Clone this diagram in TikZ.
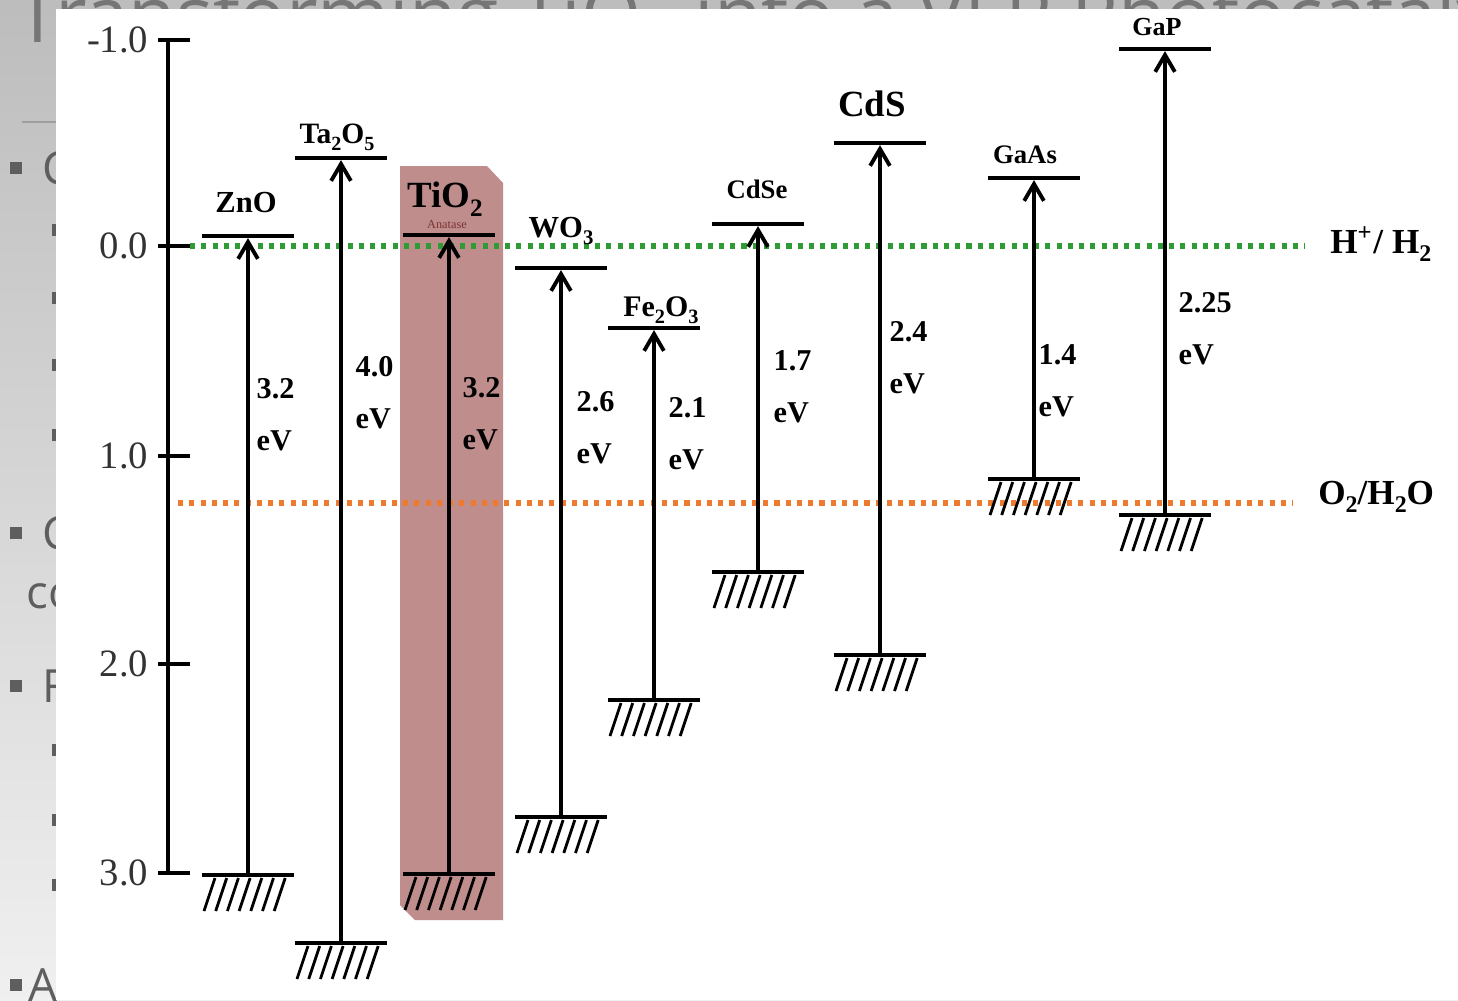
\documentclass[tikz,border=0pt]{standalone}
\usepackage{fontspec}
\setmainfont{Liberation Serif}
\newfontfamily\slidefont{Open Sans}
\usetikzlibrary{arrows.meta}
\definecolor{slidegray}{HTML}{5E5E5E}
\definecolor{anatase}{HTML}{C08D8D}
\definecolor{hydrogen}{HTML}{2E9B35}
\definecolor{oxygen}{HTML}{EE7A2F}
\newcommand\lowsub[1]{\raisebox{-0.5ex}{\scalebox{0.68}{#1}}}
\tikzset{
  level/.style={line width=1.4pt},
  gap/.style={line width=0.95pt,shorten >=0.6pt,-{Straight Barb[length=4.8pt,width=5.6pt,line width=1.1pt]}},
  hatch/.style={line width=0.8pt},
  redox/.style={line width=1.45pt,dash pattern=on 1.45pt off 1.75pt},
  ev/.style={font=\bfseries\fontsize{8.6}{14.8}\selectfont,align=left,anchor=west,inner sep=0pt},
  tick/.style={anchor=east,inner sep=0pt,text=black!80,font=\fontsize{11}{11}\selectfont},
}
\begin{document}
\begin{tikzpicture}[x=0.01cm,y=-0.01cm]
\useasboundingbox (0,0) rectangle (1458,1000);
\shade[top color=black!26,bottom color=black!6] (0,0) rectangle (1458,1000);
\node[anchor=base west,inner sep=0pt,text=slidegray!85,font=\slidefont\fontsize{22}{22}\selectfont] (title) at (16,42) {Transforming TiO\textsubscript{2} into a VLP Photocatalyst};
\draw[slidegray!60,line width=0.6pt] (22,122) -- (60,122);
\foreach \y/\t in {168/C,533/C,686/F}{
  \fill[slidegray] (10,\y-6) rectangle +(12,12);
  \node[anchor=west,inner sep=0pt,text=slidegray,font=\slidefont\fontsize{13}{13}\selectfont] at (42,\y) {\t};
}
\node[anchor=west,inner sep=0pt,text=slidegray,font=\slidefont\fontsize{13}{13}\selectfont] at (26,596) {co};
\fill[slidegray] (10,979) rectangle +(12,12);
\node[anchor=west,inner sep=0pt,text=slidegray,font=\slidefont\fontsize{13}{13}\selectfont] at (28,985) {A};
\foreach \y in {230,298,365,435,750,820,885}
  \fill[slidegray] (52,\y-6) rectangle +(8,12);
\fill[white] (56,9) rectangle (1458,1000);
\fill[anatase] (400,166) -- (487,166) -- (503,183) -- (503,920) -- (415,920) -- (400,905) -- cycle;
\draw[line width=1.15pt] (168,40) -- (168,873);
\foreach \e/\y in {-1.0/40,0.0/246,1.0/456,2.0/664,3.0/873}{
  \draw[line width=1.15pt] (158,\y) -- (190,\y);
  \node[tick] at (149,\y) {\e};
}
\coordinate (h2a) at (190,246);
\node[anchor=west,inner xsep=7pt,inner ysep=0pt,font=\bfseries\fontsize{10}{10}\selectfont] (h2) at (1305,244) {H\textsuperscript{+}/ H\lowsub{2}};
\draw[redox,hydrogen] (h2a) -- (h2a -| h2.west);
\coordinate (o2a) at (178,503);
\node[anchor=west,inner xsep=7pt,inner ysep=0pt,font=\bfseries\fontsize{10}{10}\selectfont] (o2) at (1293,497) {O\lowsub{2}/H\lowsub{2}O};
\draw[redox,oxygen] (o2a) -- (o2a -| o2.west);
\foreach \n/\cx/\cb/\vb/\lx/\ly/\fs/\lab/\gx/\gy/\g in {
  zno/248/236/875/246/203/8.7/ZnO/256/415/3.2,
  ta/341/158/943/337/137/8.4/Ta\lowsub{2}O\lowsub{5}/355/393/4.0,
  tio/449/235/874/445/199/10.5/TiO\lowsub{2}/462/414/3.2,
  wo/561/268/817/561/231/8.7/WO\lowsub{3}/576/428/2.6,
  fe/654/328/700/661/310/8.5/Fe\lowsub{2}O\lowsub{3}/668/434/2.1,
  cdse/758/224/572/757/189/7.6/CdSe/773/387/1.7,
  cds/880/143/655/872/104/10.5/CdS/889/358/2.4,
  gaas/1034/178/479/1025/155/7.6/GaAs/1038/381/1.4,
  gap/1165/49/515/1157/27/7.4/GaP/1178/329/2.25}{
  \coordinate (cb-\n) at (\cx,\cb);
  \coordinate (vb-\n) at (\cx,\vb);
  \draw[level] (\cx-46,\cb) -- (\cx+46,\cb);
  \draw[level] (\cx-46,\vb) -- (\cx+46,\vb);
  \foreach \k in {0,...,6}
    \draw[hatch] (\cx-33+\k*11.7,\vb+3) -- ++(-11,33);
  \draw[gap] (vb-\n) -- (cb-\n);
  \node[inner sep=0pt,font=\bfseries\fontsize{\fs}{\fs}\selectfont] (lab-\n) at (\lx,\ly) {\lab};
  \node[ev] (ev-\n) at (\gx,\gy) {\g\\eV};
}
\node[inner sep=0pt,text=red!35!black!80,font=\fontsize{3.5}{3.5}\selectfont] (anatase) at (447,224) {Anatase};
\end{tikzpicture}
\end{document}
